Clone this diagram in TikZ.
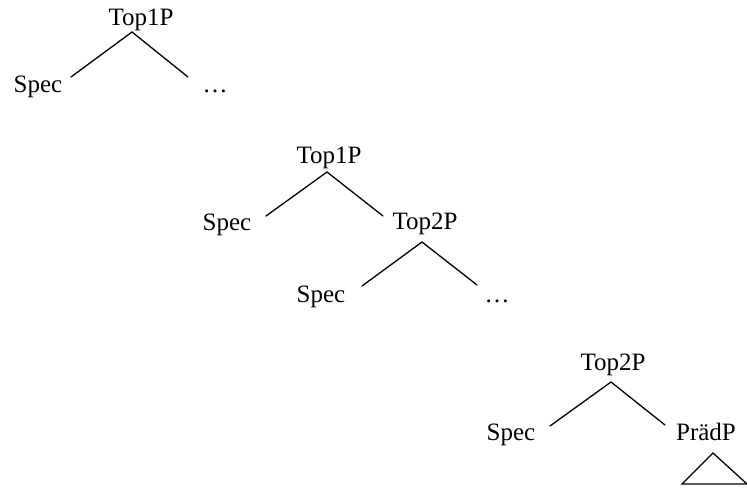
\documentclass[tikz,border=0pt]{standalone}
\usepackage{fontspec}
\setmainfont{Liberation Serif}
\begin{document}
\begin{tikzpicture}[x=1bp,y=-1bp,
  lbl/.style={anchor=base,inner sep=0pt,font=\fontsize{25bp}{29bp}\selectfont},
  branch/.style={line width=1.3bp,line cap=round,line join=miter}]
\useasboundingbox (0,0) rectangle (747,490);
% first tree: Top1P -> Spec, ...
\node[lbl] (a) at (141,26) {Top1P};
\node[lbl] (as) at (38,93) {Spec};
\node[lbl] (ad) at (215,93) {\char"2026};
\coordinate (a0) at (132,32);
\coordinate (a1) at (71,77);
\coordinate (a2) at (188,77);
\draw[branch] (a1) -- (a0) -- (a2);
% second tree: Top1P -> Spec, Top2P -> Spec, ...
\node[lbl] (b) at (329,164) {Top1P};
\node[lbl] (bs) at (227,231) {Spec};
\node[lbl] (c) at (425,230) {Top2P};
\coordinate (b0) at (327,172);
\coordinate (b1) at (266,216);
\coordinate (b2) at (383,216);
\draw[branch] (b1) -- (b0) -- (b2);
\node[lbl] (cs) at (321,302) {Spec};
\node[lbl] (cd) at (497,302) {\char"2026};
\coordinate (c0) at (422,242);
\coordinate (c1) at (362,286);
\coordinate (c2) at (477,285);
\draw[branch] (c1) -- (c0) -- (c2);
% third tree: Top2P -> Spec, PrädP with triangle
\node[lbl] (d) at (613,370) {Top2P};
\node[lbl] (ds) at (511,440) {Spec};
\node[lbl] (p) at (706,440) {PrädP};
\coordinate (d0) at (611,382);
\coordinate (d1) at (550,426);
\coordinate (d2) at (665,425);
\draw[branch] (d1) -- (d0) -- (d2);
\coordinate (t0) at (713,453);
\coordinate (t1) at (682,484);
\coordinate (t2) at (747,484);
\draw[branch] (t1) -- (t0) -- (t2) -- cycle;
\end{tikzpicture}
\end{document}
